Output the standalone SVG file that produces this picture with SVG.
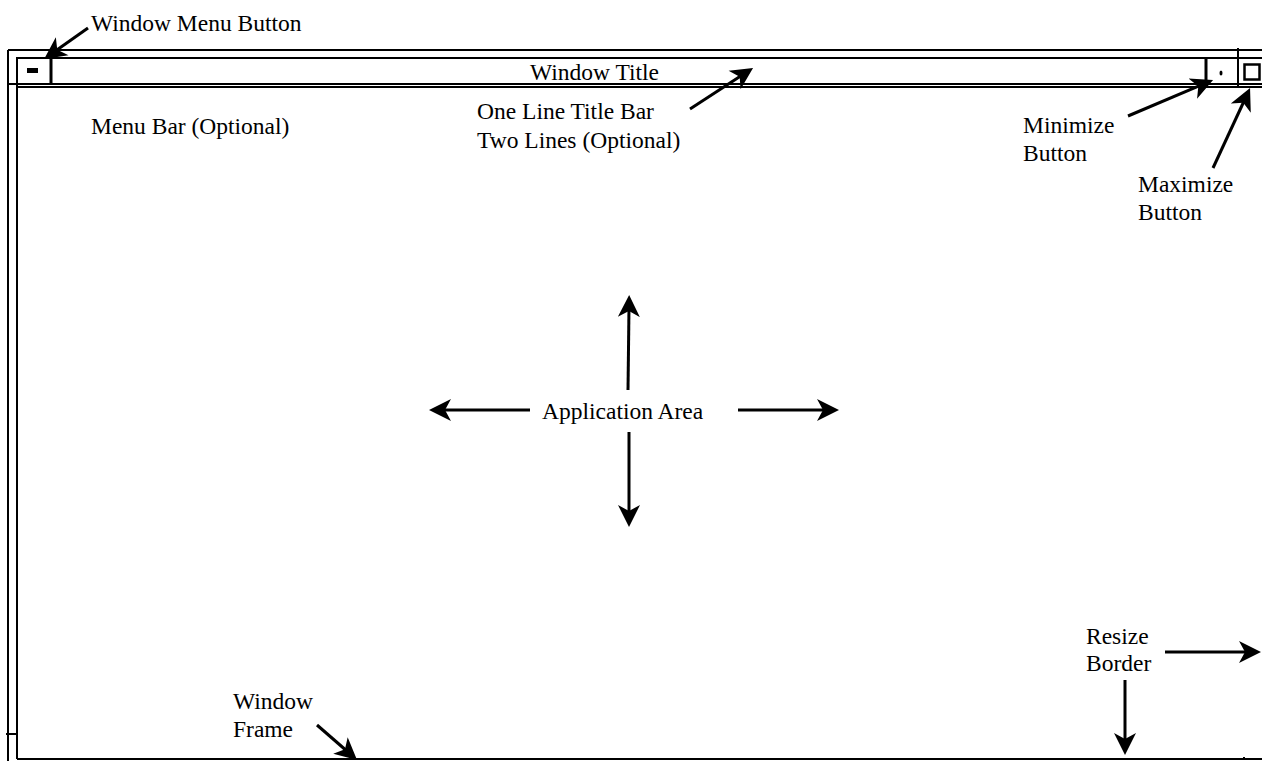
<svg xmlns="http://www.w3.org/2000/svg" width="1262" height="761" viewBox="0 0 1262 761">
<style>
.t{font-family:"Liberation Serif","Times New Roman",serif;font-size:23.5px;fill:#000}
.f{stroke:#000;stroke-width:2;fill:none}
.a{stroke:#000;stroke-width:3;fill:none;marker-end:url(#ah)}
</style>
<defs>
<marker id="ah" viewBox="0 -12 24 24" refX="10" refY="0" markerWidth="24" markerHeight="24" markerUnits="userSpaceOnUse" orient="auto">
<path d="M22,0 L0,-11 L6,0 L0,11 Z" fill="#000"/>
</marker>
</defs>
<rect width="1262" height="761" fill="#fff"/>
<g id="window-frame">
<line class="f" x1="8" y1="50" x2="8" y2="761"/>
<line class="f" x1="8" y1="50" x2="1262" y2="50"/>
<line class="f" x1="17" y1="57" x2="17" y2="759"/>
<line class="f" x1="17" y1="58" x2="1262" y2="58"/>
<line class="f" x1="8" y1="84" x2="1262" y2="84"/>
<line class="f" x1="17" y1="87" x2="1262" y2="87"/>
<line class="f" x1="17" y1="759" x2="1262" y2="759"/>
<line class="f" x1="6" y1="734" x2="17" y2="734"/>
<line class="f" x1="1244" y1="757" x2="1244" y2="760"/>
</g>
<g id="window-menu-button">
<line x1="51" y1="58" x2="51" y2="84" stroke="#000" stroke-width="3"/>
<rect x="27" y="68" width="11" height="5" fill="#000"/>
</g>
<g id="minimize-button">
<line x1="1206" y1="58" x2="1206" y2="85" stroke="#000" stroke-width="3"/>
<ellipse cx="1221" cy="73" rx="1.5" ry="2.5" fill="#000"/>
</g>
<g id="maximize-button">
<line class="f" x1="1238" y1="48" x2="1238" y2="88"/>
<rect x="1244.5" y="64.5" width="15" height="15" fill="none" stroke="#000" stroke-width="2.5"/>
</g>
<g id="labels">
<text class="t" x="91" y="31">Window Menu Button</text>
<text class="t" x="530" y="80">Window Title</text>
<text class="t" x="91" y="134">Menu Bar (Optional)</text>
<text class="t" x="477" y="119">One Line Title Bar</text>
<text class="t" x="477" y="148">Two Lines (Optional)</text>
<text class="t" x="1023" y="133">Minimize</text>
<text class="t" x="1023" y="161">Button</text>
<text class="t" x="1138" y="192">Maximize</text>
<text class="t" x="1138" y="220">Button</text>
<text class="t" x="542" y="419">Application Area</text>
<text class="t" x="233" y="709">Window</text>
<text class="t" x="233" y="737">Frame</text>
<text class="t" x="1086" y="644">Resize</text>
<text class="t" x="1086" y="671">Border</text>
</g>
<g id="connectors">
<line class="a" x1="88" y1="28" x2="54" y2="52"/>
<line class="a" x1="690" y1="109" x2="743" y2="74.6"/>
<line class="a" x1="1128" y1="116" x2="1202" y2="84.7"/>
<line class="a" x1="1213" y1="168" x2="1245" y2="99"/>
<line class="a" x1="530" y1="410" x2="441" y2="410"/>
<line class="a" x1="738" y1="410" x2="827" y2="410"/>
<line class="a" x1="628" y1="390" x2="629" y2="307"/>
<line class="a" x1="629" y1="432" x2="629" y2="515"/>
<line class="a" x1="317" y1="725" x2="348" y2="752"/>
<line class="a" x1="1165" y1="652" x2="1249" y2="652"/>
<line class="a" x1="1125" y1="680" x2="1125" y2="743"/>
</g>
</svg>
